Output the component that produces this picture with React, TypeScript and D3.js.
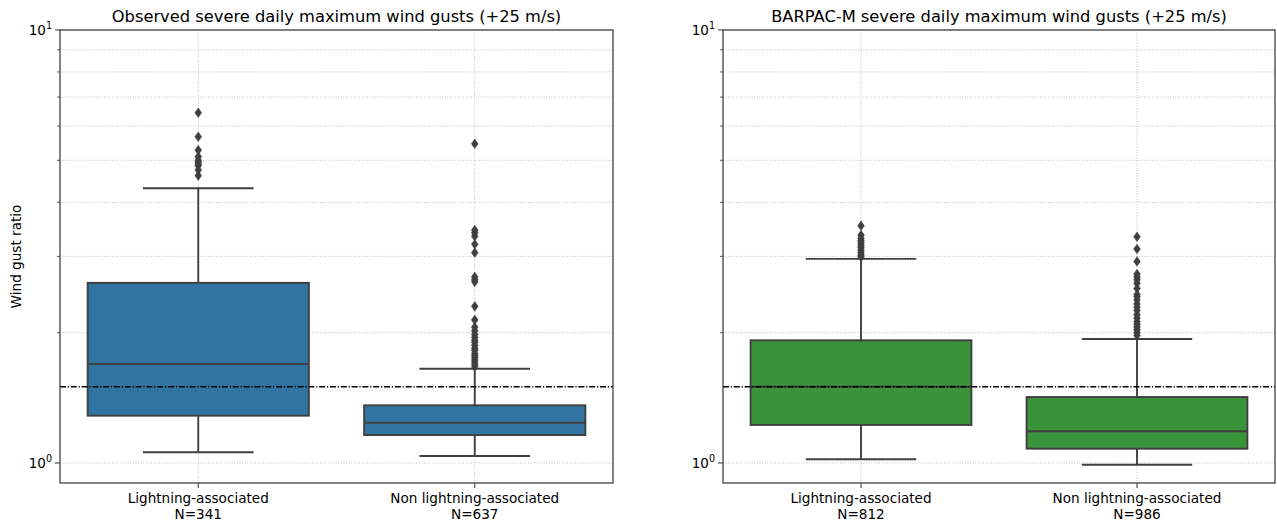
import React from 'react';
import * as d3 from 'd3';

// ---------- data ----------
const categories = ['Lightning-associated', 'Non lightning-associated'];
const panelTitles = [
  'Observed severe daily maximum wind gusts (+25 m/s)',
  'BARPAC-M severe daily maximum wind gusts (+25 m/s)',
];
const obsCounts = [341, 637];
const modelCounts = [812, 986];

// observed stats [lightning, non-lightning]
const obsWhiskerLow = [1.059, 1.038];
const obsQ1 = [1.286, 1.16];
const obsMedian = [1.693, 1.239];
const obsQ3 = [2.606, 1.359];
const obsWhiskerHigh = [4.31, 1.651];
const obsOutliersLightning = [6.44, 5.67, 5.28, 5.1, 5.0, 4.95, 4.9, 4.86, 4.75, 4.61];
const obsOutliersNon = [
  5.46, 3.45, 3.4, 3.34, 3.2, 3.06, 2.69, 2.65, 2.62, 2.3, 2.14, 2.06, 2.02, 1.98, 1.95, 1.92,
  1.9, 1.87, 1.84, 1.82, 1.79, 1.77, 1.75, 1.73, 1.71, 1.69, 1.67,
];

// model stats
const modWhiskerLow = [1.02, 0.991];
const modQ1 = [1.224, 1.079];
const modMedian = [1.5, 1.184];
const modQ3 = [1.92, 1.42];
const modWhiskerHigh = [2.96, 1.934];
const modOutliersLightning = [3.53, 3.36, 3.3, 3.26, 3.22, 3.18, 3.14, 3.1, 3.06, 3.02, 2.99];
const modOutliersNon = [
  3.33, 3.12, 2.92, 2.73, 2.69, 2.65, 2.6, 2.53, 2.45, 2.42, 2.38, 2.33, 2.29, 2.25, 2.2, 2.16,
  2.12, 2.09, 2.06, 2.03, 2.0, 1.97,
];

const thresholdValue = 1.5;
const yMajorTicks = [1, 10];
const yMinorTicks = [2, 3, 4, 5, 6, 7, 8, 9];

// ---------- layout ----------
const W = 1277;
const H = 523;
const TOP = 30;
const BOTTOM = 483;
const panels = [
  {
    x0: 60, x1: 613, color: '#3274a1', title: panelTitles[0], counts: obsCounts,
    lo: obsWhiskerLow, q1: obsQ1, med: obsMedian, q3: obsQ3, hi: obsWhiskerHigh,
    out: [obsOutliersLightning, obsOutliersNon], ylabel: true,
  },
  {
    x0: 723, x1: 1275, color: '#3a923a', title: panelTitles[1], counts: modelCounts,
    lo: modWhiskerLow, q1: modQ1, med: modMedian, q3: modQ3, hi: modWhiskerHigh,
    out: [modOutliersLightning, modOutliersNon], ylabel: false,
  },
];

const FONT = 'DejaVu Sans, sans-serif';
const LINE = '#3f3f3f';
const LW = 1.9;

function diamond(cx: number, cy: number) {
  const hw = 3.4, hh = 4.8;
  return `M${cx},${cy - hh}L${cx + hw},${cy}L${cx},${cy + hh}L${cx - hw},${cy}Z`;
}

function Panel({ p }: { p: any }) {
  const y = d3.scaleLog().domain([0.899, 10]).range([BOTTOM, TOP]);
  const x = d3.scaleBand().domain(categories).range([p.x0, p.x1]).paddingInner(0).paddingOuter(0);
  const bw = x.bandwidth() * 0.8;
  const cw = bw / 2;
  return (
    <g>
      {/* grid */}
      {[...yMajorTicks, ...yMinorTicks].map((t) => (
        <line key={'g' + t} x1={p.x0} x2={p.x1} y1={y(t)} y2={y(t)} stroke="#b0b0b0" strokeWidth={0.8} strokeDasharray="1,1.6" />
      ))}
      {categories.map((c) => {
        const cx = (x(c) as number) + x.bandwidth() / 2;
        return <line key={'vg' + c} x1={cx} x2={cx} y1={TOP} y2={BOTTOM} stroke="#b0b0b0" strokeWidth={0.8} strokeDasharray="1,1.6" />;
      })}
      {/* boxes */}
      {categories.map((c, i) => {
        const cx = (x(c) as number) + x.bandwidth() / 2;
        return (
          <g key={'b' + c}>
            <line x1={cx} x2={cx} y1={y(p.lo[i])} y2={y(p.q1[i])} stroke={LINE} strokeWidth={LW} />
            <line x1={cx} x2={cx} y1={y(p.q3[i])} y2={y(p.hi[i])} stroke={LINE} strokeWidth={LW} />
            <line x1={cx - cw / 2} x2={cx + cw / 2} y1={y(p.lo[i])} y2={y(p.lo[i])} stroke={LINE} strokeWidth={LW} />
            <line x1={cx - cw / 2} x2={cx + cw / 2} y1={y(p.hi[i])} y2={y(p.hi[i])} stroke={LINE} strokeWidth={LW} />
            <rect x={cx - bw / 2} width={bw} y={y(p.q3[i])} height={y(p.q1[i]) - y(p.q3[i])} fill={p.color} stroke={LINE} strokeWidth={LW} />
            <line x1={cx - bw / 2} x2={cx + bw / 2} y1={y(p.med[i])} y2={y(p.med[i])} stroke={LINE} strokeWidth={LW} />
            {p.out[i].map((v: number, j: number) => (
              <path key={j} d={diamond(cx, y(v))} fill={LINE} stroke={LINE} strokeWidth={0.5} />
            ))}
          </g>
        );
      })}
      {/* threshold */}
      <line x1={p.x0} x2={p.x1} y1={y(thresholdValue)} y2={y(thresholdValue)} stroke="#000" strokeWidth={1.6} strokeDasharray="6,1.8,1.2,1.8" />
      {/* spines */}
      <rect x={p.x0} y={TOP} width={p.x1 - p.x0} height={BOTTOM - TOP} fill="none" stroke="#333" strokeWidth={1.2} />
      {/* y ticks */}
      {yMajorTicks.map((t) => (
        <g key={'yt' + t}>
          <line x1={p.x0 - 5} x2={p.x0} y1={y(t)} y2={y(t)} stroke="#333" strokeWidth={1} />
          <text x={p.x0 - 8} y={y(t) + 5} textAnchor="end" fontFamily={FONT} fontSize={13.5} fill="#000">
            10<tspan dy={-6} fontSize={9.6}>{Math.round(Math.log10(t))}</tspan>
          </text>
        </g>
      ))}
      {yMinorTicks.map((t) => (
        <line key={'ym' + t} x1={p.x0 - 3} x2={p.x0} y1={y(t)} y2={y(t)} stroke="#333" strokeWidth={0.8} />
      ))}
      {/* x ticks */}
      {categories.map((c, i) => {
        const cx = (x(c) as number) + x.bandwidth() / 2;
        return (
          <g key={'xt' + c}>
            <line x1={cx} x2={cx} y1={BOTTOM} y2={BOTTOM + 5} stroke="#333" strokeWidth={1} />
            <text x={cx} y={503} textAnchor="middle" fontFamily={FONT} fontSize={13.6} fill="#000">{c}</text>
            <text x={cx} y={519} textAnchor="middle" fontFamily={FONT} fontSize={13.6} fill="#000">{'N=' + p.counts[i]}</text>
          </g>
        );
      })}
      {/* title */}
      <text x={(p.x0 + p.x1) / 2} y={22} textAnchor="middle" fontFamily={FONT} fontSize={16.3} fill="#000">{p.title}</text>
      {p.ylabel && (
        <text transform={`translate(21,${(TOP + BOTTOM) / 2}) rotate(-90)`} textAnchor="middle" fontFamily={FONT} fontSize={13.6} fill="#000">Wind gust ratio</text>
      )}
    </g>
  );
}

export default function App() {
  return (
    <svg width={W} height={H} style={{ position: 'absolute', left: 0, top: 0, background: '#fff' }}>
      <rect width={W} height={H} fill="#fff" />
      {panels.map((p, i) => (
        <Panel key={i} p={p} />
      ))}
    </svg>
  );
}
